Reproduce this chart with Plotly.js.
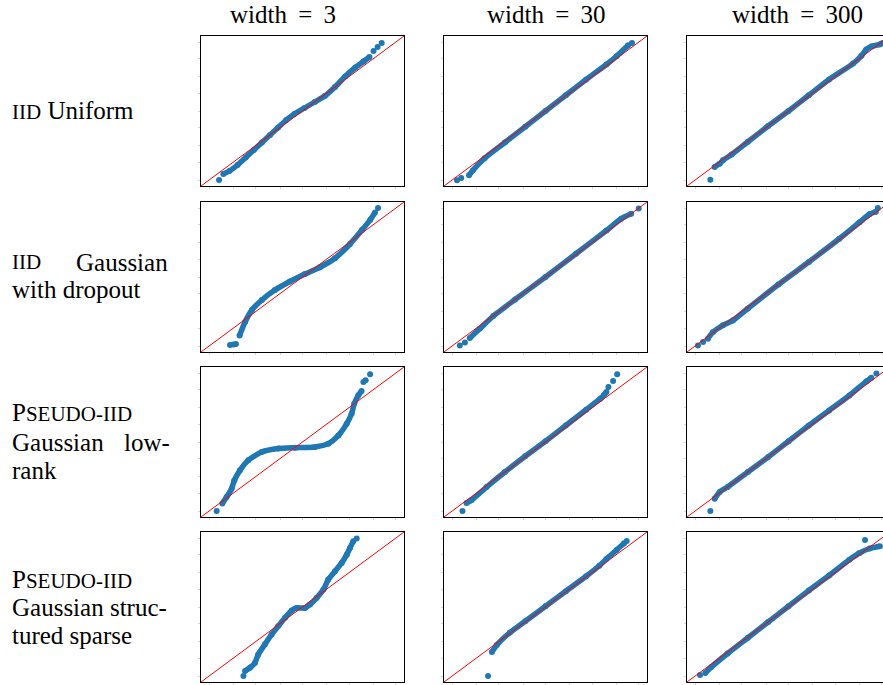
<!DOCTYPE html>
<html>
<head>
<meta charset="utf-8">
<script src="https://cdn.plot.ly/plotly-3.0.1.min.js"></script>
<style>
html,body{margin:0;padding:0;overflow:hidden;background:#fff;}
#chart{width:895px;height:685px;}
</style>
</head>
<body>
<div id="chart"></div>
<script>
// ---- Data (normalised QQ coordinates) ----
const colTitles = ["width\u2009 = \u20093", "width\u2009 = \u200930", "width\u2009 = \u2009300"];
const refLine = [0, 1];
const tickVals = [0.04, 0.16, 0.27, 0.39, 0.5, 0.62, 0.73, 0.85, 0.96];

// row 1: IID Uniform
const r1c1BandX = [0.11,0.14,0.18,0.22,0.26,0.30,0.34,0.38,0.42,0.46,0.51,0.56,0.61,0.66,0.71,0.76,0.80,0.83];
const r1c1BandY = [0.08,0.10,0.14,0.19,0.24,0.29,0.34,0.39,0.44,0.48,0.52,0.56,0.60,0.66,0.73,0.79,0.83,0.86];
const r1c1TailX = [0.089,0.85,0.87,0.89];
const r1c1TailY = [0.04,0.90,0.927,0.953];

const r1c2BandX = [0.123,0.142,0.2,0.3,0.4,0.5,0.6,0.7,0.8,0.85,0.907];
const r1c2BandY = [0.071,0.104,0.185,0.29,0.395,0.5,0.605,0.71,0.81,0.865,0.938];
const r1c2TailX = [0.064,0.085,0.926];
const r1c2TailY = [0.038,0.053,0.953];

const r1c3BandX = [0.136,0.161,0.177,0.22,0.3,0.4,0.5,0.6,0.7,0.818,0.859,0.883,0.908,0.949,0.964];
const r1c3BandY = [0.127,0.149,0.171,0.21,0.295,0.4,0.5,0.605,0.71,0.816,0.868,0.91,0.93,0.944,0.953];
const r1c3TailX = [0.115];
const r1c3TailY = [0.042];

// row 2: IID Gaussian with dropout
const r2c1BandX = [0.19,0.217,0.251,0.30,0.364,0.438,0.512,0.586,0.66,0.734,0.793,0.833,0.857];
const r2c1BandY = [0.11,0.2,0.28,0.347,0.413,0.47,0.52,0.565,0.625,0.72,0.813,0.88,0.93];
const r2c1TailX = [0.143,0.16,0.172,0.872];
const r2c1TailY = [0.047,0.05,0.053,0.96];

const r2c2BandX = [0.127,0.177,0.243,0.35,0.5,0.65,0.8,0.873,0.922];
const r2c2BandY = [0.093,0.156,0.24,0.35,0.5,0.655,0.81,0.889,0.922];
const r2c2TailX = [0.078,0.103,0.959];
const r2c2TailY = [0.044,0.064,0.956];

const r2c3BandX = [0.103,0.128,0.177,0.227,0.3,0.45,0.6,0.75,0.85,0.9,0.93];
const r2c3BandY = [0.089,0.133,0.178,0.211,0.29,0.45,0.6,0.755,0.865,0.92,0.935];
const r2c3TailX = [0.054,0.079,0.94];
const r2c3TailY = [0.044,0.067,0.96];

// row 3: PSEUDO-IID Gaussian low-rank
const r3c1BandX = [0.105,0.126,0.151,0.164,0.192,0.233,0.299,0.381,0.463,0.562,0.627,0.677,0.718,0.742,0.755,0.775,0.791];
const r3c1BandY = [0.09,0.133,0.189,0.244,0.311,0.378,0.433,0.456,0.462,0.467,0.489,0.544,0.622,0.689,0.756,0.811,0.84];
const r3c1TailX = [0.077,0.8,0.811,0.833];
const r3c1TailY = [0.04,0.9,0.911,0.951];

const r3c2BandX = [0.111,0.135,0.21,0.3,0.4,0.5,0.6,0.7,0.77,0.787,0.8];
const r3c2BandY = [0.093,0.111,0.2,0.3,0.405,0.505,0.61,0.715,0.789,0.811,0.833];
const r3c2TailX = [0.091,0.81,0.833,0.853];
const r3c2TailY = [0.04,0.867,0.907,0.951];

const r3c3BandX = [0.136,0.161,0.2,0.3,0.4,0.5,0.6,0.7,0.8,0.883,0.908];
const r3c3BandY = [0.122,0.167,0.2,0.3,0.4,0.505,0.61,0.71,0.81,0.904,0.929];
const r3c3TailX = [0.115,0.933];
const r3c3TailY = [0.04,0.956];

// row 4: PSEUDO-IID Gaussian structured sparse
const r4c1BandX = [0.217,0.241,0.266,0.282,0.315,0.348,0.381,0.414,0.447,0.471,0.512,0.537,0.57,0.603,0.627,0.66,0.693,0.718,0.734,0.75];
const r4c1BandY = [0.073,0.095,0.129,0.184,0.251,0.317,0.373,0.428,0.477,0.494,0.494,0.517,0.561,0.616,0.683,0.738,0.794,0.849,0.894,0.938];
const r4c1TailX = [0.209,0.767];
const r4c1TailY = [0.04,0.956];

const r4c2BandX = [0.236,0.26,0.325,0.4,0.5,0.6,0.7,0.765,0.8,0.85,0.887];
const r4c2BandY = [0.2,0.247,0.33,0.405,0.505,0.605,0.705,0.775,0.82,0.88,0.925];
const r4c2TailX = [0.217,0.9];
const r4c2TailY = [0.04,0.94];

const r4c3BandX = [0.09,0.12,0.2,0.3,0.4,0.5,0.6,0.7,0.8,0.85,0.9,0.95];
const r4c3BandY = [0.06,0.1,0.19,0.295,0.4,0.505,0.61,0.71,0.815,0.86,0.89,0.905];
const r4c3TailX = [0.064,0.877];
const r4c3TailY = [0.047,0.947];

const panels = [
  [[r1c1BandX,r1c1BandY,r1c1TailX,r1c1TailY],[r1c2BandX,r1c2BandY,r1c2TailX,r1c2TailY],[r1c3BandX,r1c3BandY,r1c3TailX,r1c3TailY]],
  [[r2c1BandX,r2c1BandY,r2c1TailX,r2c1TailY],[r2c2BandX,r2c2BandY,r2c2TailX,r2c2TailY],[r2c3BandX,r2c3BandY,r2c3TailX,r2c3TailY]],
  [[r3c1BandX,r3c1BandY,r3c1TailX,r3c1TailY],[r3c2BandX,r3c2BandY,r3c2TailX,r3c2TailY],[r3c3BandX,r3c3BandY,r3c3TailX,r3c3TailY]],
  [[r4c1BandX,r4c1BandY,r4c1TailX,r4c1TailY],[r4c2BandX,r4c2BandY,r4c2TailX,r4c2TailY],[r4c3BandX,r4c3BandY,r4c3TailX,r4c3TailY]]
];

// ---- Layout geometry ----
const W = 895, H = 685;
const colLeft = [201, 444, 687], panelW = 203;
const rowTop = [36, 202, 367, 532], panelH = 150;
const titleCenters = [283, 546, 797];
const BLUE = '#1f77b4';
const serif = 'Liberation Serif, Times New Roman, serif';

const traces = [];
const layout = {
  width: W, height: H,
  margin: {l:0, r:0, t:0, b:0},
  paper_bgcolor: '#fff', plot_bgcolor: '#fff',
  showlegend: false,
  annotations: []
};

let k = 0;
for (let r = 0; r < 4; r++) {
  for (let c = 0; c < 3; c++) {
    k++;
    const sx = k === 1 ? '' : String(k);
    const xa = 'x' + sx, ya = 'y' + sx;
    const [bx, by, tx, ty] = panels[r][c];
    traces.push({x: bx, y: by, xaxis: xa, yaxis: ya, type: 'scatter', mode: 'lines+markers',
      line: {color: BLUE, width: 5.5, shape: 'spline', smoothing: 0.6},
      marker: {color: BLUE, size: 6}, hoverinfo: 'skip'});
    traces.push({x: tx, y: ty, xaxis: xa, yaxis: ya, type: 'scatter', mode: 'markers',
      marker: {color: BLUE, size: 6}, hoverinfo: 'skip'});
    traces.push({x: refLine, y: refLine, xaxis: xa, yaxis: ya, type: 'scatter', mode: 'lines',
      line: {color: '#ff0000', width: 1}, hoverinfo: 'skip'});
    const axCommon = {range: [0, 1], showgrid: false, zeroline: false, showticklabels: false,
      showline: true, linecolor: '#000', linewidth: 1, mirror: true,
      ticks: 'outside', ticklen: 2, tickcolor: '#d4d4d4', tickvals: tickVals, fixedrange: true};
    layout['xaxis' + sx] = Object.assign({}, axCommon, {anchor: ya,
      domain: [colLeft[c] / W, (colLeft[c] + panelW) / W]});
    layout['yaxis' + sx] = Object.assign({}, axCommon, {anchor: xa,
      domain: [1 - (rowTop[r] + panelH) / H, 1 - rowTop[r] / H]});
  }
}

// column titles
for (let c = 0; c < 3; c++) {
  layout.annotations.push({text: colTitles[c], xref: 'paper', yref: 'paper',
    x: titleCenters[c] / W, y: 1 - 14 / H, xanchor: 'center', yanchor: 'middle',
    showarrow: false, font: {family: serif, size: 25, color: '#000'}});
}

// row labels (one annotation per text fragment)
const sc = (s) => '<span style="font-size:21px">' + s + '</span>';
const rowLabelParts = [
  {t: sc('IID') + ' Uniform', x: 10, y: 110, a: 'left'},
  {t: sc('IID'), x: 10, y: 262, a: 'left'},
  {t: 'Gaussian', x: 170, y: 262, a: 'right'},
  {t: 'with dropout', x: 10, y: 290, a: 'left'},
  {t: 'P' + sc('SEUDO-IID'), x: 10, y: 413, a: 'left'},
  {t: 'Gaussian', x: 10, y: 442, a: 'left'},
  {t: 'low-', x: 172, y: 442, a: 'right'},
  {t: 'rank', x: 10, y: 470, a: 'left'},
  {t: 'P' + sc('SEUDO-IID'), x: 10, y: 579, a: 'left'},
  {t: 'Gaussian struc-', x: 10, y: 607, a: 'left'},
  {t: 'tured sparse', x: 10, y: 635, a: 'left'}
];
rowLabelParts.forEach(p => {
  layout.annotations.push({text: p.t, xref: 'paper', yref: 'paper',
    x: p.x / W, y: 1 - p.y / H, xanchor: p.a, yanchor: 'middle', showarrow: false,
    font: {family: serif, size: 25, color: '#000'}});
});

Plotly.newPlot('chart', traces, layout, {staticPlot: true, displayModeBar: false});
</script>
</body>
</html>
